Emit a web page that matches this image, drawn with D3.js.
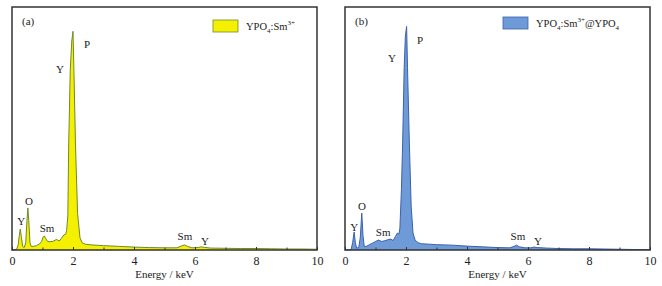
<!DOCTYPE html>
<html><head><meta charset="utf-8">
<script src="https://cdn.jsdelivr.net/npm/d3@7"></script>
<style>body{margin:0;background:#fff}svg{display:block}text{font-family:"Liberation Serif","DejaVu Serif",serif;fill:#222}</style>
</head><body><svg id="c" width="662" height="286"></svg>
<script>
const energyA = [0,0.15,0.2,0.24,0.27,0.31,0.35,0.4,0.45,0.49,0.52,0.55,0.59,0.63,0.7,0.8,0.9,0.97,1.02,1.06,1.1,1.17,1.25,1.35,1.45,1.5,1.55,1.62,1.7,1.76,1.79,1.83,1.86,1.91,1.96,2.0,2.03,2.08,2.15,2.23,2.3,2.4,2.6,3.0,3.5,4.0,4.5,5.0,5.4,5.55,5.65,5.75,5.9,6.1,6.2,6.3,6.5,7.0,7.5,8.0,8.5,9.0,9.5,10.0];
const countsA = [0,0.3,2,6,8.6,5,1.5,1.0,3,12,17.3,12,3,1.5,1.5,1.8,2.5,3.5,5.3,5.8,4.8,3.5,3.4,3.6,4.3,4.1,3.7,4.8,6.2,6.5,8,14,44,74,86,90,74,44,15,5,3,2.4,2.1,1.8,1.5,1.2,1.0,0.9,0.9,1.6,2.1,1.5,0.9,1.0,1.3,1.1,0.8,0.7,0.6,0.6,0.5,0.4,0.4,0.3];
const energyB = [0,0.2,0.25,0.3,0.34,0.38,0.45,0.5,0.55,0.59,0.63,0.7,0.8,0.9,1.0,1.1,1.2,1.3,1.4,1.5,1.58,1.65,1.72,1.77,1.8,1.85,1.89,1.94,1.98,2.02,2.05,2.11,2.17,2.23,2.3,2.4,2.5,3.0,3.5,4.0,4.5,5.0,5.4,5.55,5.62,5.72,5.9,6.1,6.2,6.3,6.6,7.0,7.5,8.0,8.5,9.0,9.5,10.0];
const countsB = [0,0.2,3,7.4,3,0.8,1,5,15.2,6,1.5,1.5,2.2,2.8,3.5,4.1,3.5,3.8,4.2,4.5,3.9,5.5,7.0,6.5,9,25,44,75,88,92,75,44,18,7,4,3,2.6,2.2,2.0,1.6,1.3,1.0,0.9,1.5,2.0,1.3,0.9,0.9,1.2,1.0,0.8,0.6,0.5,0.5,0.4,0.3,0.2,0.2];
const xTicks = [0,2,4,6,8,10];
const xMinorTicks = [1,3,5,7,9];
const labelsA = [["P",2.46,84.8],["Y",1.57,74.5],["O",0.56,20.2],["Y",0.3,11.9],["Sm",1.15,9.1],["Sm",5.67,5.8],["Y",6.33,3.7]];
const labelsB = [["P",2.46,86.4],["Y",1.54,79],["O",0.56,18.1],["Y",0.3,9.5],["Sm",1.25,7.4],["Sm",5.67,5.8],["Y",6.33,3.7]];

const svg = d3.select("#c");

function panel(x0, x1, energy, counts, labels, tag, fill, stroke, legendParts, legendX, legendY) {
  const top = 7, bottom = 250;
  const x = d3.scaleLinear().domain([0,10]).range([x0,x1]);
  const y = d3.scaleLinear().domain([0,100]).range([bottom,top]);
  const g = svg.append("g");
  const pts = energy.map((e,i)=>[e,counts[i]]);
  const area = d3.area().x(d=>x(d[0])).y0(y(0)).y1(d=>y(d[1]));
  const line = d3.line().x(d=>x(d[0])).y(d=>y(d[1]));
  g.append("path").attr("d",area(pts)).attr("fill",fill);
  g.append("path").attr("d",line(pts)).attr("fill","none").attr("stroke",stroke).attr("stroke-width",1);
  const ax = g.append("g").attr("transform",`translate(0,${bottom})`)
    .call(d3.axisBottom(x).tickValues(xTicks).tickSizeInner(-3).tickSizeOuter(0).tickPadding(6));
  ax.select(".domain").remove();
  ax.selectAll("line").attr("stroke","#333");
  ax.selectAll("text").attr("font-size",12).attr("fill","#222").style("font-family","Liberation Serif");
  const ax2 = g.append("g").attr("transform",`translate(0,${bottom})`)
    .call(d3.axisBottom(x).tickValues(xMinorTicks).tickSizeInner(-2.5).tickSizeOuter(0).tickFormat(""));
  ax2.select(".domain").remove();
  ax2.selectAll("line").attr("stroke","#333");
  g.append("rect").attr("x",x0).attr("y",top).attr("width",x1-x0).attr("height",bottom-top)
    .attr("fill","none").attr("stroke","#333").attr("stroke-width",1.5);
  g.append("text").attr("x",(x0+x1)/2).attr("y",278).attr("text-anchor","middle").attr("font-size",11).text("Energy / keV");
  g.append("text").attr("x",x0+10).attr("y",25).attr("font-size",11).text(tag);
  labels.forEach(l=>{
    g.append("text").attr("x",x(l[1])).attr("y",y(l[2])).attr("text-anchor","middle")
      .attr("dominant-baseline","central").attr("font-size",11).text(l[0]);
  });
  g.append("rect").attr("x",legendX).attr("y",legendY).attr("width",25).attr("height",12)
    .attr("fill",fill).attr("stroke",stroke).attr("stroke-width",0.8);
  const t = g.append("text").attr("x",legendX+33).attr("y",legendY+10).attr("font-size",10.5);
  legendParts.forEach(p=>{
    const ts = t.append("tspan").text(p[0]);
    if (p[1]==="sub") ts.attr("font-size",7).attr("dy",3);
    else if (p[1]==="sup") ts.attr("font-size",7).attr("dy",-5);
    else if (p[1]==="back") ts.attr("dy",p[2]);
  });
  return g;
}

panel(12, 317, energyA, countsA, labelsA, "(a)", "#f5f000", "#6e8a2c",
  [["YPO"],["4","sub"],[":Sm","back",-3],["3+","sup"]], 213, 20);
panel(345, 650, energyB, countsB, labelsB, "(b)", "#6f9ad8", "#3a62ad",
  [["YPO"],["4","sub"],[":Sm","back",-3],["3+","sup"],["@YPO","back",5],["4","sub"]], 503, 17);
</script></body></html>
